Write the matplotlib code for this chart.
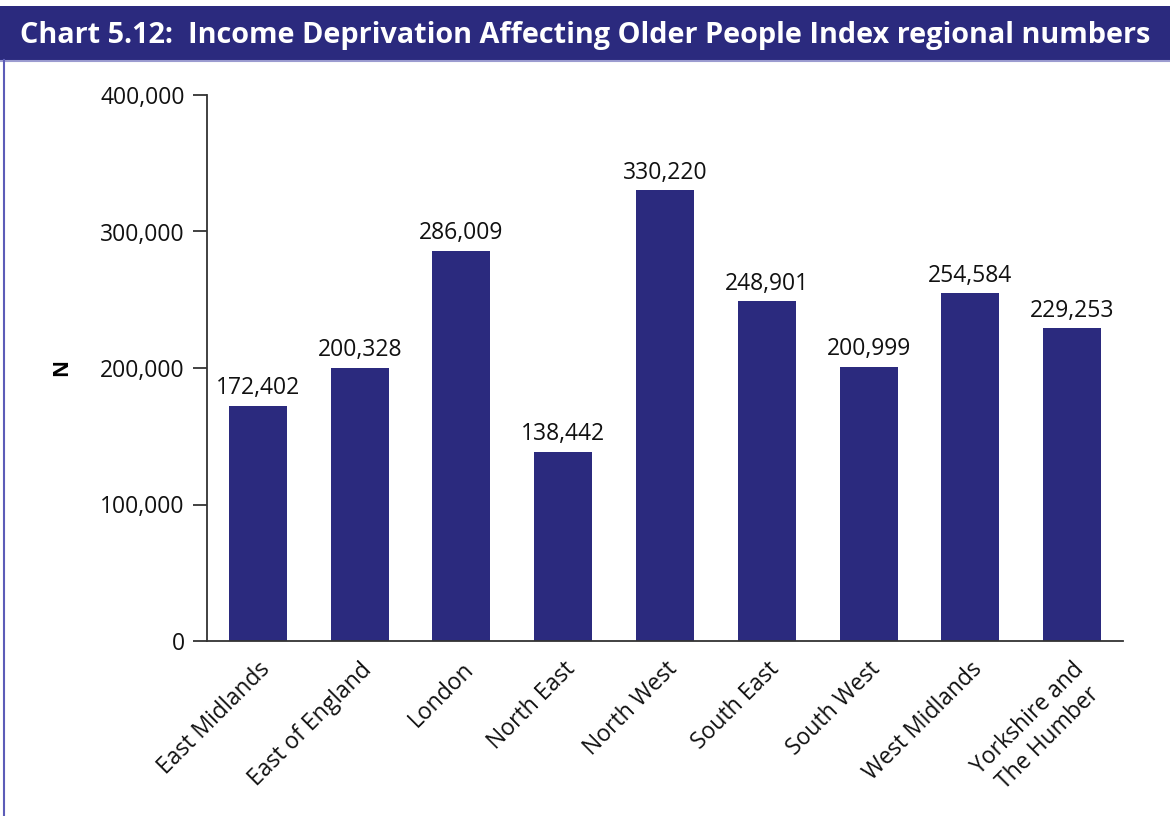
import matplotlib.pyplot as plt
from matplotlib.patches import Rectangle
from matplotlib.lines import Line2D
from matplotlib.ticker import FuncFormatter

regions = ['East Midlands', 'East of England', 'London', 'North East', 'North West',
           'South East', 'South West', 'West Midlands', 'Yorkshire and\nThe Humber']
values = [172402, 200328, 286009, 138442, 330220, 248901, 200999, 254584, 229253]
yticks = [0, 100000, 200000, 300000, 400000]

navy = '#2B2A7E'
plt.rcParams['font.family'] = ['Open Sans', 'DejaVu Sans']

fig = plt.figure(figsize=(11.7, 8.16), dpi=100)

# title banner
fig.patches.append(Rectangle((0.0, 1 - 60 / 816), 1.0, 54 / 816, transform=fig.transFigure,
                             facecolor=navy, edgecolor='none', zorder=0))
fig.lines.append(Line2D([0.0, 1.0], [1 - 61 / 816] * 2, transform=fig.transFigure,
                        color='#9C9CD0', lw=1.5))
fig.lines.append(Line2D([4 / 1170] * 2, [0, 1 - 60 / 816], transform=fig.transFigure,
                        color='#5C5CB8', lw=1.5))
fig.text(20 / 1170, 1 - 35 / 816, 'Chart 5.12:  Income Deprivation Affecting Older People Index regional numbers',
         color='white', fontsize=20.8, fontweight='bold', va='center', ha='left')

ax = fig.add_axes([207 / 1170, 1 - 641 / 816, (1123 - 207) / 1170, (641 - 95) / 816])
ax.bar(range(len(values)), values, width=0.57, color=navy)
for i, v in enumerate(values):
    ax.annotate(f'{v:,}', (i, v), xytext=(0, 4), textcoords='offset points',
                ha='center', va='bottom', fontsize=16.5, color='#111111')

ax.set_xlim(-0.5, len(values) - 0.5)
ax.set_ylim(0, 400000)
ax.set_yticks(yticks)
ax.yaxis.set_major_formatter(FuncFormatter(lambda v, p: f'{int(v):,}'))
ax.set_xticks(range(len(values)))
ax.set_xticklabels(regions, rotation=45, ha='right', rotation_mode='anchor',
                   multialignment='center')
ax.tick_params(axis='x', length=0, labelsize=16.5, pad=12, labelcolor='#111111')
ax.tick_params(axis='y', length=10, width=1.3, labelsize=16.5, pad=6, color='#333333',
               labelcolor='#111111')
ax.set_ylabel('N', fontsize=15, fontweight='bold', labelpad=20)

for s in ['top', 'right']:
    ax.spines[s].set_visible(False)
for s in ['left', 'bottom']:
    ax.spines[s].set_color('#333333')
    ax.spines[s].set_linewidth(1.3)

plt.savefig('out.png', dpi=100)
